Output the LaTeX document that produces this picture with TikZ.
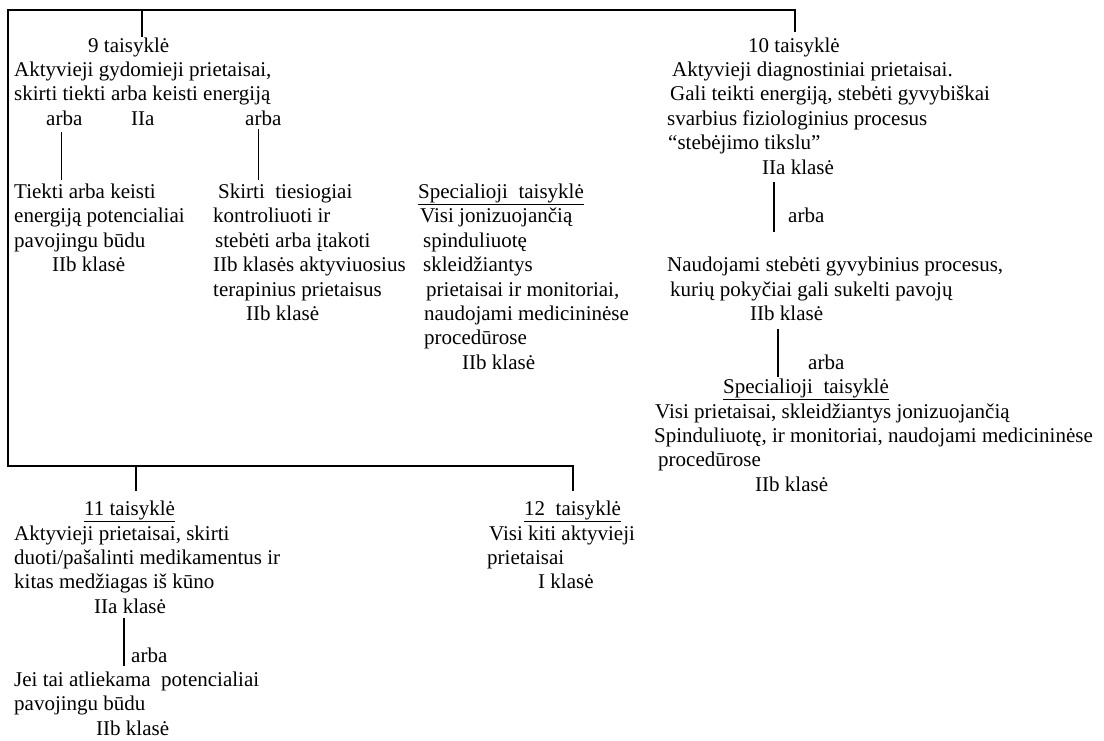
\documentclass[tikz,border=0pt]{standalone}
\usepackage{fontspec}
\setmainfont{Liberation Serif}

\begin{document}
\begin{tikzpicture}[
  x=1pt, y=-1pt,
  font=\fontsize{21}{24}\selectfont,
  txt/.style={anchor=base west, inner sep=0pt},
  link/.style={line width=1.4pt},
]
\useasboundingbox (0,0) rectangle (1104,740);

% ---- 9 taisykle
\foreach \x/\r/\t in {88/0/9 taisyklė,
  14/1/{Aktyvieji gydomieji prietaisai,},
  14/2/skirti tiekti arba keisti energiją}
  \node[txt] (n9-\r) at (\x,{52+24.4*\r}) {\t};
\node[txt] (a9l) at (46,{52+24.4*3}) {arba};
\node[txt] (cls9) at (131,{52+24.4*3}) {IIa};
\node[txt] (a9r) at (245,{52+24.4*3}) {arba};
\foreach \x/\r/\t in {14/6/Tiekti arba keisti,
  14/7/energiją potencialiai,
  14/8/pavojingu būdu,
  52/9/IIb klasė}
  \node[txt] (p9-\r) at (\x,{52+24.4*\r}) {\t};
\foreach \x/\r/\t in {218/6/Skirti~~tiesiogiai,
  213/7/kontroliuoti ir,
  215/8/stebėti arba įtakoti,
  213/9/IIb klasės aktyviuosius,
  213/10/terapinius prietaisus,
  246/11/IIb klasė}
  \node[txt] (s9-\r) at (\x,{52+24.4*\r}) {\t};

% ---- specialioji taisykle (middle)
\foreach \x/\r/\t in {418/6/\underline{Specialioji~~taisyklė},
  420/7/Visi jonizuojančią,
  423/8/spinduliuotę,
  423/9/skleidžiantys,
  426/10/{prietaisai ir monitoriai,},
  424/11/naudojami medicininėse,
  424/12/procedūrose,
  462/13/IIb klasė}
  \node[txt] (sp-\r) at (\x,{52+24.4*\r}) {\t};

% ---- 10 taisykle
\foreach \x/\r/\t in {748/0/10 taisyklė,
  672/1/Aktyvieji diagnostiniai prietaisai.,
  670/2/{Gali teikti energiją, stebėti gyvybiškai},
  667/3/svarbius fiziologinius procesus,
  668/4/“stebėjimo tikslu”,
  762/5/IIa klasė,
  667/9/{Naudojami stebėti gyvybinius procesus,},
  670/10/kurių pokyčiai gali sukelti pavojų,
  750/11/IIb klasė,
  723/14/\underline{Specialioji~~taisyklė},
  655/15/{Visi prietaisai, skleidžiantys jonizuojančią},
  654/16/{Spinduliuotę, ir monitoriai, naudojami medicininėse},
  658/17/procedūrose,
  755/18/IIb klasė}
  \node[txt] (n10-\r) at (\x,{52+24.4*\r}) {\t};
\node[txt] (a10u) at (788,{52+24.4*7}) {arba};
\node[txt] (a10d) at (808,{52+24.4*13}) {arba};

% ---- 11 taisykle
\foreach \x/\r/\t in {84/19/\underline{11 taisyklė},
  14/20/{Aktyvieji prietaisai, skirti},
  14/21/{duoti/pašalinti medikamentus ir},
  14/22/kitas medžiagas iš kūno,
  94/23/IIa klasė,
  14/26/Jei tai atliekama~~potencialiai,
  14/27/pavojingu būdu,
  96/28/IIb klasė}
  \node[txt] (n11-\r) at (\x,{52+24.4*\r}) {\t};
\node[txt] (a11) at (131,{52+24.4*25}) {arba};

% ---- 12 taisykle
\foreach \x/\r/\t in {524/19/\underline{12~~taisyklė},
  489/20/Visi kiti aktyvieji,
  487/21/prietaisai,
  538/22/I klasė}
  \node[txt] (n12-\r) at (\x,{52+24.4*\r}) {\t};

% ---- tree
\coordinate (root) at (8,10);
\coordinate (hub) at (8,466);
\coordinate (j9) at (142,10);
\coordinate (j10) at (795,10);
\coordinate (j11) at (136,466);
\coordinate (j12) at (573,466);
\draw[link, shorten <=5pt, shorten >=10pt] (j10 |- n10-0.north) -- (j10) -- (root) -- (hub) -- (j12) -- (j12 |- n12-19.north);
\draw[link] (j9) -- (j9 |- n9-0.north);
\draw[link, shorten >=10pt] (j11) -- (j11 |- n11-19.north);

% ---- arba links
\draw[link, shorten <=6pt, shorten >=4pt] ([xshift=-3pt]a9l.south) -- ([xshift=-3pt]a9l.south |- p9-6.north);
\draw[link, shorten <=3pt, shorten >=4pt] ([xshift=-5pt]a9r.south) -- ([xshift=-5pt]a9r.south |- s9-6.north);
\draw[link, shorten <=8pt, shorten >=25pt] ([xshift=12pt]n10-5.south west) -- ([xshift=12pt]n10-5.south west |- n10-9.north);
\draw[link, shorten <=8pt, shorten >=2pt] ([xshift=28pt]n10-11.south west) -- ([xshift=28pt]n10-11.south west |- n10-14.north);
\draw[link, shorten <=4pt, shorten >=6pt] ([xshift=30pt]n11-23.south west) -- ([xshift=30pt]n11-23.south west |- n11-26.north);
\end{tikzpicture}
\end{document}
